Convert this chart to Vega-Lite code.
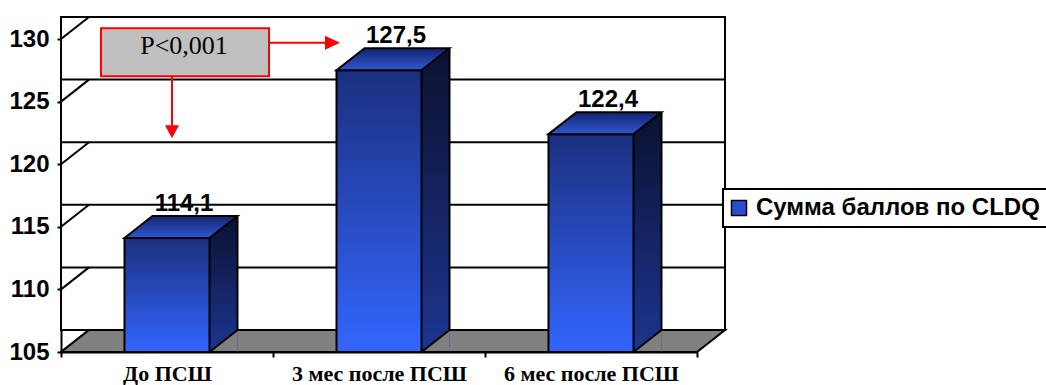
{
  "$schema": "https://vega.github.io/schema/vega-lite/v6.json",
  "width": 636,
  "height": 313,
  "autosize": {"type": "none"},
  "padding": {"left": 61, "top": 39, "right": 349, "bottom": 33},
  "background": "white",
  "datasets": {
    "scores": [
      {"period": "До ПСШ", "score": 114.1},
      {"period": "3 мес после ПСШ", "score": 127.5},
      {"period": "6 мес после ПСШ", "score": 122.4}
    ],
    "ticks": [{"v": 105}, {"v": 110}, {"v": 115}, {"v": 120}, {"v": 125}, {"v": 130}]
  },
  "config": {
    "view": {"stroke": null},
    "locale": {"number": {"decimal": ",", "thousands": " ", "grouping": [3], "currency": ["", ""]}},
    "axis": {"domainColor": "black", "domainWidth": 2, "tickColor": "black", "tickWidth": 2, "labelColor": "black", "grid": false, "titleOpacity": 0, "zindex": 1},
    "axisY": {"labelFont": "Liberation Sans", "labelFontWeight": "bold", "labelFontSize": 24, "tickSize": 4, "labelPadding": 8},
    "axisX": {"labelFont": "Liberation Serif", "labelFontWeight": "bold", "labelFontSize": 22, "tickSize": 5, "labelPadding": 6, "labelAngle": 0, "tickBand": "extent"},
    "legend": {"strokeColor": "black", "strokeWidth": 2, "fillColor": "white", "padding": 7}
  },
  "layer": [
    {
      "data": {"values": [{}]},
      "mark": {"type": "rect", "fill": "white", "stroke": "black", "strokeWidth": 2, "xOffset": 28, "x2Offset": 28, "yOffset": -22, "y2Offset": -22},
      "encoding": {"y": {"datum": 130}, "y2": {"datum": 105}}
    },
    {
      "data": {"name": "ticks"},
      "mark": {"type": "rule", "stroke": "black", "strokeWidth": 2, "xOffset": 28, "x2Offset": 28, "yOffset": -22},
      "encoding": {"y": {"field": "v", "type": "quantitative"}}
    },
    {
      "data": {"name": "ticks"},
      "mark": {"type": "rule", "stroke": "black", "strokeWidth": 2, "x2Offset": 28, "y2Offset": -22},
      "encoding": {
        "x": {"value": 0},
        "x2": {"value": 0},
        "y": {"field": "v", "type": "quantitative"},
        "y2": {"field": "v"}
      }
    },
    {
      "data": {"values": [{}]},
      "mark": {"type": "point", "shape": "M-106,0L-78,-22L558,-22L530,0Z", "size": 4, "filled": true, "fill": "#808080", "stroke": "black", "strokeWidth": 2, "opacity": 1},
      "encoding": {"x": {"datum": "До ПСШ"}, "y": {"datum": 105}}
    },
    {
      "data": {"name": "scores"},
      "mark": {"type": "square", "size": 100, "opacity": 1},
      "encoding": {
        "x": {"field": "period", "type": "nominal"},
        "y": {"datum": 110},
        "color": {
          "datum": "Сумма баллов по CLDQ",
          "scale": {"range": ["#2a4cd0"]},
          "legend": {
            "orient": "none", "legendX": 662, "legendY": 150, "title": null,
            "labelFont": "Liberation Sans", "labelFontWeight": "bold", "labelFontSize": 24, "labelColor": "black",
            "labelLimit": 500, "labelOffset": 5, "symbolOffset": -3, "symbolType": "square", "symbolSize": 225, "symbolStrokeColor": "black",
            "symbolStrokeWidth": 1.5, "symbolOpacity": 1, "symbolFillColor": "#2a4cd0"
          }
        }
      }
    },
    {
      "data": {"name": "scores"},
      "mark": {
        "type": "bar", "width": 28, "xOffset": 56.5, "x2Offset": 56.5, "yOffset": -22, "strokeWidth": 0, "opacity": 1,
        "fill": {"gradient": "linear", "x1": 0, "y1": 0, "x2": 0, "y2": 1, "stops": [{"offset": 0, "color": "#0b1130"}, {"offset": 1, "color": "#1d3590"}]}
      },
      "encoding": {
        "x": {"field": "period", "type": "nominal"},
        "y": {"field": "score", "type": "quantitative"},
        "y2": {"datum": 105}
      }
    },
    {
      "data": {"name": "scores"},
      "mark": {"type": "point", "shape": "M70.5,0L42.5,0L70.5,-22", "size": 4, "filled": true, "fill": "#808080", "stroke": "black", "strokeWidth": 2, "opacity": 1},
      "encoding": {"x": {"field": "period", "type": "nominal"}, "y": {"datum": 105}}
    },
    {
      "data": {"name": "scores"},
      "mark": {"type": "rule", "stroke": "black", "strokeWidth": 2, "xOffset": 70.5, "yOffset": -22, "y2Offset": -22},
      "encoding": {
        "x": {"field": "period", "type": "nominal"},
        "y": {"field": "score", "type": "quantitative"},
        "y2": {"datum": 105}
      }
    },
    {
      "data": {"name": "scores"},
      "mark": {
        "type": "bar", "width": {"band": 0.401}, "stroke": "black", "strokeWidth": 2, "opacity": 1,
        "fill": {"gradient": "linear", "x1": 0, "y1": 0, "x2": 0, "y2": 1, "stops": [{"offset": 0, "color": "#1b2f7e"}, {"offset": 1, "color": "#3366ff"}]}
      },
      "encoding": {
        "x": {
          "field": "period", "type": "nominal", "sort": null, "title": null,
          "scale": {"type": "band", "paddingInner": 0, "paddingOuter": 0, "domain": ["До ПСШ", "3 мес после ПСШ", "6 мес после ПСШ"]},
          "axis": {"title": null}
        },
        "y": {
          "field": "score", "type": "quantitative", "title": null,
          "scale": {"domain": [105, 130], "zero": false, "nice": false},
          "axis": {"title": null, "values": [105, 110, 115, 120, 125, 130]}
        },
        "y2": {"datum": 105}
      }
    },
    {
      "data": {"name": "scores"},
      "mark": {
        "type": "point", "shape": "M-42.5,0L-14.5,-22L70.5,-22L42.5,0Z", "size": 4, "filled": true, "stroke": "black", "strokeWidth": 2, "opacity": 1,
        "fill": {"gradient": "linear", "x1": 0, "y1": 0, "x2": 0, "y2": 1, "stops": [{"offset": 0, "color": "#152470"}, {"offset": 1, "color": "#2d58d0"}]}
      },
      "encoding": {"x": {"field": "period", "type": "nominal"}, "y": {"field": "score", "type": "quantitative"}}
    },
    {
      "data": {"name": "scores"},
      "mark": {"type": "text", "font": "Liberation Sans", "fontWeight": "bold", "fontSize": 24, "dx": 17, "dy": -27, "baseline": "alphabetic", "align": "center", "color": "black"},
      "encoding": {
        "x": {"field": "period", "type": "nominal"},
        "y": {"field": "score", "type": "quantitative"},
        "text": {"field": "score", "type": "quantitative", "format": ".1f"}
      }
    },
    {
      "data": {"values": [{}]},
      "mark": {"type": "point", "shape": "M-84,-24H84V24H-84Z", "size": 4, "filled": true, "fill": "#c0c0c0", "stroke": "#ff0000", "strokeWidth": 2, "opacity": 1, "xOffset": 18},
      "encoding": {"x": {"datum": "До ПСШ"}, "y": {"datum": 128.94}}
    },
    {
      "data": {"values": [{}]},
      "mark": {"type": "text", "font": "Liberation Serif", "fontSize": 26, "dx": 17, "baseline": "alphabetic", "align": "center", "color": "black"},
      "encoding": {"x": {"datum": "До ПСШ"}, "y": {"datum": 128.8}, "text": {"value": "P<0,001"}}
    },
    {
      "data": {"values": [{}]},
      "mark": {"type": "point", "shape": "M0,0H58", "size": 4, "filled": false, "stroke": "#ff0000", "strokeWidth": 2, "opacity": 1, "xOffset": 102},
      "encoding": {"x": {"datum": "До ПСШ"}, "y": {"datum": 129.7}}
    },
    {
      "data": {"values": [{}]},
      "mark": {"type": "point", "shape": "M0,0L-15,-7L-15,7Z", "size": 4, "filled": true, "fill": "#ff0000", "strokeWidth": 0, "opacity": 1, "xOffset": 173},
      "encoding": {"x": {"datum": "До ПСШ"}, "y": {"datum": 129.7}}
    },
    {
      "data": {"values": [{}]},
      "mark": {"type": "point", "shape": "M0,0V50", "size": 4, "filled": false, "stroke": "#ff0000", "strokeWidth": 2, "opacity": 1, "xOffset": 5},
      "encoding": {"x": {"datum": "До ПСШ"}, "y": {"datum": 127.04}}
    },
    {
      "data": {"values": [{}]},
      "mark": {"type": "point", "shape": "M0,0L-7,-13L7,-13Z", "size": 4, "filled": true, "fill": "#ff0000", "strokeWidth": 0, "opacity": 1, "xOffset": 5},
      "encoding": {"x": {"datum": "До ПСШ"}, "y": {"datum": 122.08}}
    }
  ]
}
